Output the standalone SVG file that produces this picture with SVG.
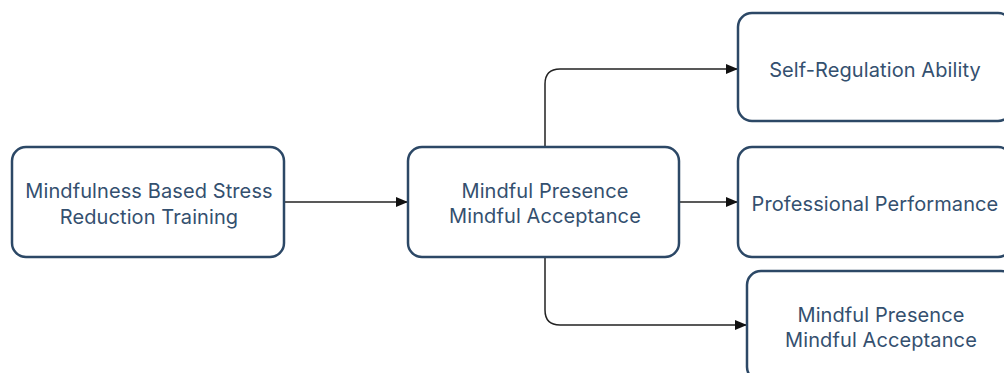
<svg xmlns="http://www.w3.org/2000/svg" width="1004" height="373" viewBox="0 0 1004 373">
<defs>
<marker id="ah" markerWidth="12" markerHeight="10" refX="11" refY="5" orient="auto" markerUnits="userSpaceOnUse">
<path d="M0,0 L12,5 L0,10 Z" fill="#111"/>
</marker>
<style>
.box{fill:#fff;stroke:#2c4866;stroke-width:2.5}
.t{font-family:Inter,"Noto Sans",sans-serif;font-size:20px;letter-spacing:0.1px;fill:#34506f;text-anchor:middle}
.c{fill:none;stroke:#222;stroke-width:1.5;marker-end:url(#ah)}
</style>
</defs>
<rect width="1004" height="373" fill="#fff"/>
<g id="connectors">
<path class="c" d="M285,202 L407,202"/>
<path class="c" d="M545,146 L545,84 Q545,69 560,69 L737,69"/>
<path class="c" d="M680,202 L737,202"/>
<path class="c" d="M545,257 L545,310 Q545,325 560,325 L746,325"/>
</g>
<g id="n1">
<rect class="box" x="12" y="147" width="272" height="110" rx="14"/>
<text class="t" x="149" y="198">Mindfulness Based Stress</text>
<text class="t" x="149" y="224">Reduction Training</text>
</g>
<g id="n2">
<rect class="box" x="408" y="147" width="271" height="110" rx="14"/>
<text class="t" x="545" y="198">Mindful Presence</text>
<text class="t" x="545" y="223">Mindful Acceptance</text>
</g>
<g id="n3">
<rect class="box" x="738" y="13" width="274" height="108" rx="14"/>
<text class="t" x="875" y="77">Self-Regulation Ability</text>
</g>
<g id="n4">
<rect class="box" x="738" y="147" width="274" height="110" rx="14"/>
<text class="t" x="875" y="211">Professional Performance</text>
</g>
<g id="n5">
<rect class="box" x="747" y="271" width="268" height="110" rx="14"/>
<text class="t" x="881" y="322">Mindful Presence</text>
<text class="t" x="881" y="347">Mindful Acceptance</text>
</g>
</svg>
